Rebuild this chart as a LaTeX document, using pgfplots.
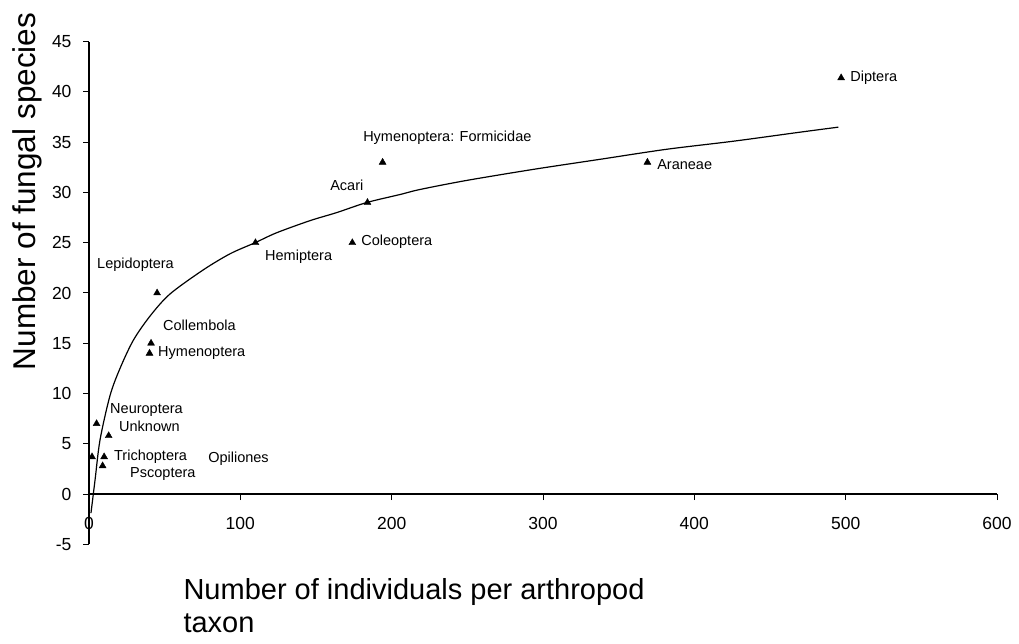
\documentclass[border=0pt]{standalone}
\usepackage{fontspec}
\setmainfont{Liberation Sans}
\usepackage{pgfplots}
\pgfplotsset{compat=1.18}
\begin{document}
\begin{tikzpicture}
\path[use as bounding box] (0,0) rectangle (1019pt,644pt);
\begin{axis}[
  at={(89pt,99.7pt)}, anchor=south west,
  scale only axis, width=908pt, height=502.6pt,
  xmin=0, xmax=600, ymin=-5, ymax=45,
  axis x line=middle, axis y line=left,
  axis line style={-, line width=1.2pt, black},
  xtick={0,100,...,600}, ytick={-5,0,...,45},
  tick align=outside, major tick length=6pt,
  tick style={line width=1pt, black},
  hide obscured x ticks=false, hide obscured y ticks=false,
  /pgf/number format/assume math mode=true,
  ticklabel style={font=\fontsize{17.5}{20}\selectfont},
  xticklabel style={yshift=-14pt},
  yticklabel style={xshift=-8pt},
  clip=false,
]
\addplot[black, line width=1.2pt, smooth, tension=0.5] coordinates {
(1.3,-1.9) (4.0,1.4) (7.3,5.4) (13.9,9.8) (20.5,12.5) (29.3,15.3) (40.3,17.7)
(53.5,19.9) (75.5,22.3) (93.2,23.9) (109.7,25.0) (124.1,26.0) (146.1,27.2)
(163.7,28.0) (183.5,29.0) (205.6,29.8) (218.8,30.3) (249.6,31.2) (293.7,32.3)
(337.7,33.3) (381.8,34.3) (425.8,35.1) (469.9,36.0) (495.2,36.5)
};
\addplot[only marks, mark=triangle*, mark size=4pt, black] coordinates {
(497,41.4) (369,33) (194,33) (184,29) (174,25) (110,25) (45,20) (41,15)
(40,14) (5,7) (13,5.8) (2,3.7) (10,3.7) (9,2.8)
};
\begin{scope}[every node/.style={anchor=west, inner sep=0pt, font=\fontsize{14.5}{17}\selectfont}]
\node at (axis cs:503,41.4) {Diptera};
\node at (axis cs:375.4,32.8) {Araneae};
\node at (axis cs:181.1,35.4) {Hymenoptera: Formicidae};
\node at (axis cs:159.3,30.7) {Acari};
\node at (axis cs:179.8,25.1) {Coleoptera};
\node at (axis cs:116.3,23.6) {Hemiptera};
\node at (axis cs:5.3,22.8) {Lepidoptera};
\node at (axis cs:48.9,16.8) {Collembola};
\node at (axis cs:45.6,14.0) {Hymenoptera};
\node at (axis cs:13.9,8.4) {Neuroptera};
\node at (axis cs:19.8,6.7) {Unknown};
\node at (axis cs:16.5,3.7) {Trichoptera};
\node at (axis cs:78.7,3.5) {Opiliones};
\node at (axis cs:27.1,2.0) {Pscoptera};
\end{scope}
\node[rotate=90, anchor=center, inner sep=0pt, font=\fontsize{31.5}{36}\selectfont]
  at (axis description cs:-0.0677,0.702) {Number of fungal species};
\node[anchor=base west, inner sep=0pt, font=\fontsize{29}{34}\selectfont]
  at (axis description cs:0.1039,-0.1094) {Number of individuals per arthropod};
\node[anchor=base west, inner sep=0pt, font=\fontsize{29}{34}\selectfont]
  at (axis description cs:0.1039,-0.1759) {taxon};
\end{axis}
\end{tikzpicture}
\end{document}
